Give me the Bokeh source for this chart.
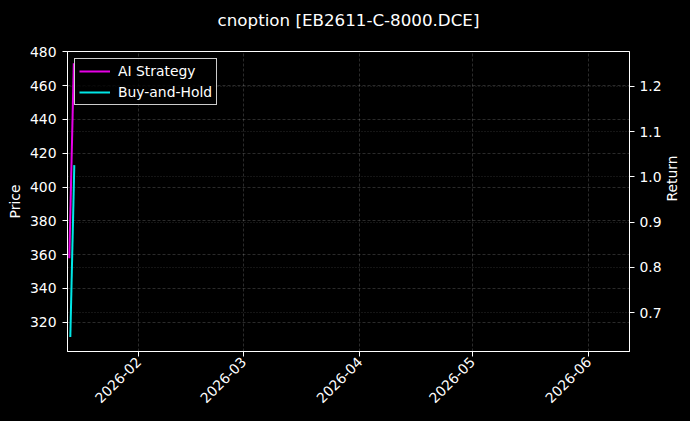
import math
from datetime import datetime
from bokeh.plotting import figure
from bokeh.models import (Range1d, LinearAxis, FixedTicker, PrintfTickFormatter,
                          DatetimeTickFormatter, Grid, Legend, LegendItem, ColumnDataSource, Title)
from bokeh.embed import file_html
from bokeh.resources import INLINE

# ---- data ----
title_text = "cnoption [EB2611-C-8000.DCE]"
ai_dates = ["2026-01-13 12:30", "2026-01-14 17:30"]
ai_strategy = [0.820, 1.251]
bh_dates = ["2026-01-13 19:00", "2026-01-14 20:30"]
buy_and_hold = [0.646, 1.026]
price_ticks = [320, 340, 360, 380, 400, 420, 440, 460, 480]
return_ticks = [0.7, 0.8, 0.9, 1.0, 1.1, 1.2]
month_ticks = ["2026-02-01", "2026-03-01", "2026-04-01", "2026-05-01", "2026-06-01"]
price_range = (302.7, 480.2)
return_range = (0.614, 1.2772)
date_range = ("2026-01-13 01:00", "2026-06-11 21:00")

FONT = "DejaVu Sans"
TICK_FS = "13.9px"


def ts(s):
    return datetime.strptime(s, "%Y-%m-%d %H:%M") if " " in s else datetime.strptime(s, "%Y-%m-%d")


def ms(d):
    return (d - datetime(1970, 1, 1)).total_seconds() * 1000.0


p = figure(width=690, height=414, output_backend="svg", toolbar_location=None,
           title=None, x_axis_type="datetime",
           x_range=Range1d(ts(date_range[0]), ts(date_range[1])),
           y_range=Range1d(*price_range),
           min_border_left=67, min_border_right=61, min_border_top=51, min_border_bottom=63)
p.extra_y_ranges = {"ret": Range1d(*return_range)}

p.background_fill_color = "#000000"
p.border_fill_color = "#000000"
p.outline_line_color = "#ffffff"
p.outline_line_width = 1

# spacer (closest to the frame) then the real title above it
spacer = Title(text=" ", text_font=FONT, text_font_size="10px", text_color="#000000",
               standoff=9)
p.add_layout(spacer, "above")
p.add_layout(Title(text=title_text, align="center", text_color="#ffffff",
                   text_font=FONT, text_font_size="16.7px", text_font_style="normal",
                   vertical_align="bottom", standoff=0), "above")

def style_axis(ax):
    ax.axis_line_color = "#ffffff"
    ax.major_tick_line_color = "#ffffff"
    ax.major_tick_out = 5
    ax.major_tick_in = 0
    ax.minor_tick_line_color = None
    ax.major_label_text_color = "#ffffff"
    ax.major_label_text_font = FONT
    ax.major_label_text_font_size = TICK_FS
    ax.axis_label_text_color = "#ffffff"
    ax.axis_label_text_font = FONT
    ax.axis_label_text_font_size = TICK_FS
    ax.axis_label_text_font_style = "normal"

# left axis
ya = p.yaxis[0]
ya.ticker = FixedTicker(ticks=price_ticks)
ya.formatter = PrintfTickFormatter(format="%d")
ya.axis_label = "Price"
ya.major_label_standoff = 6
ya.axis_label_standoff = 4
style_axis(ya)

# right axis
ra = LinearAxis(y_range_name="ret", axis_label="Return",
                ticker=FixedTicker(ticks=return_ticks),
                formatter=PrintfTickFormatter(format="%.1f"))
ra.major_label_standoff = 5
ra.axis_label_standoff = 7
try:
    ra.axis_label_orientation = math.pi / 2
except Exception:
    pass
style_axis(ra)
p.add_layout(ra, "right")

# x axis
xa = p.xaxis[0]
xa.ticker = FixedTicker(ticks=[ms(ts(m)) for m in month_ticks])
fmt = "%Y-%m"
xa.formatter = DatetimeTickFormatter(milliseconds=fmt, seconds=fmt, minsec=fmt, minutes=fmt,
                                     hourmin=fmt, hours=fmt, days=fmt, months=fmt, years=fmt)
xa.major_label_orientation = math.pi / 4
xa.major_label_standoff = 3
style_axis(xa)

# grids
p.xgrid.grid_line_color = "#ffffff"
p.xgrid.grid_line_alpha = 0.28
p.xgrid.grid_line_width = 0.6
p.xgrid.grid_line_dash = "3 2"
p.ygrid.grid_line_color = "#ffffff"
p.ygrid.grid_line_alpha = 0.28
p.ygrid.grid_line_width = 0.6
p.ygrid.grid_line_dash = "3 2"
rgrid = Grid(dimension=1, ticker=ra.ticker, y_range_name="ret",
             grid_line_color="#ffffff", grid_line_alpha=0.28, grid_line_width=0.6,
             grid_line_dash="1 2")
p.add_layout(rgrid)

# lines
src_ai = ColumnDataSource(dict(x=[ts(d) for d in ai_dates], y=ai_strategy))
src_bh = ColumnDataSource(dict(x=[ts(d) for d in bh_dates], y=buy_and_hold))
r_ai = p.line("x", "y", source=src_ai, y_range_name="ret", line_color="#ff00ff",
              line_width=2, line_alpha=0.9)
r_bh = p.line("x", "y", source=src_bh, y_range_name="ret", line_color="#00ffff",
              line_width=2, line_alpha=0.9)

legend = Legend(items=[LegendItem(label="AI Strategy", renderers=[r_ai]),
                       LegendItem(label="Buy-and-Hold", renderers=[r_bh])],
                location="top_left")
legend.margin = 7
legend.padding = 4
legend.spacing = 5
legend.glyph_width = 31
legend.glyph_height = 16
legend.label_height = 16
legend.label_standoff = 8
legend.label_text_color = "#ffffff"
legend.label_text_font = FONT
legend.label_text_font_size = TICK_FS
legend.background_fill_color = "#000000"
legend.background_fill_alpha = 0.8
legend.border_line_color = "#ffffff"
legend.border_line_alpha = 0.8
legend.border_line_width = 1
p.add_layout(legend)

html = file_html(p, INLINE)
html = html.replace("</head>", "<style>html,body{background:#000000;}</style></head>", 1)
open("out.html", "w").write(html)
